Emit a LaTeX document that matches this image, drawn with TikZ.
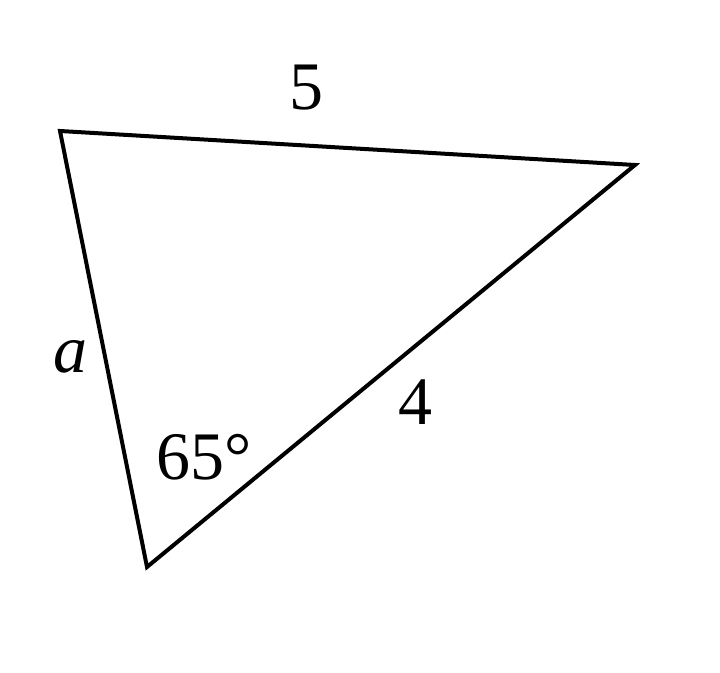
\documentclass[tikz,border=0pt]{standalone}
\usepackage{fontspec}
\setmainfont{Liberation Serif}
\usepackage{tikz}
\usetikzlibrary{positioning,calc}

\tikzset{
	lbl/.style={anchor=base, inner sep=0, font=\fontsize{34}{40}\selectfont},
	side/.style={line width=2pt, line join=miter}
}

\begin{document}
\begin{tikzpicture}[x=0.5pt, y=-0.5pt]
	\useasboundingbox (0,0) rectangle (720,673);
	\coordinate (A) at (60,131);
	\coordinate (B) at (635,165);
	\coordinate (C) at (147,567);
	\draw[side] (A) -- (B) -- (C) -- cycle;
	\node[lbl] (five) at (307,110) {5};
	\node[lbl] (four) at (416,425) {4};
	\node[lbl] (sideA) at (71,373) {\itshape a};
	\node[lbl] (ang) at (204,480) {65\textdegree};
\end{tikzpicture}
\end{document}
